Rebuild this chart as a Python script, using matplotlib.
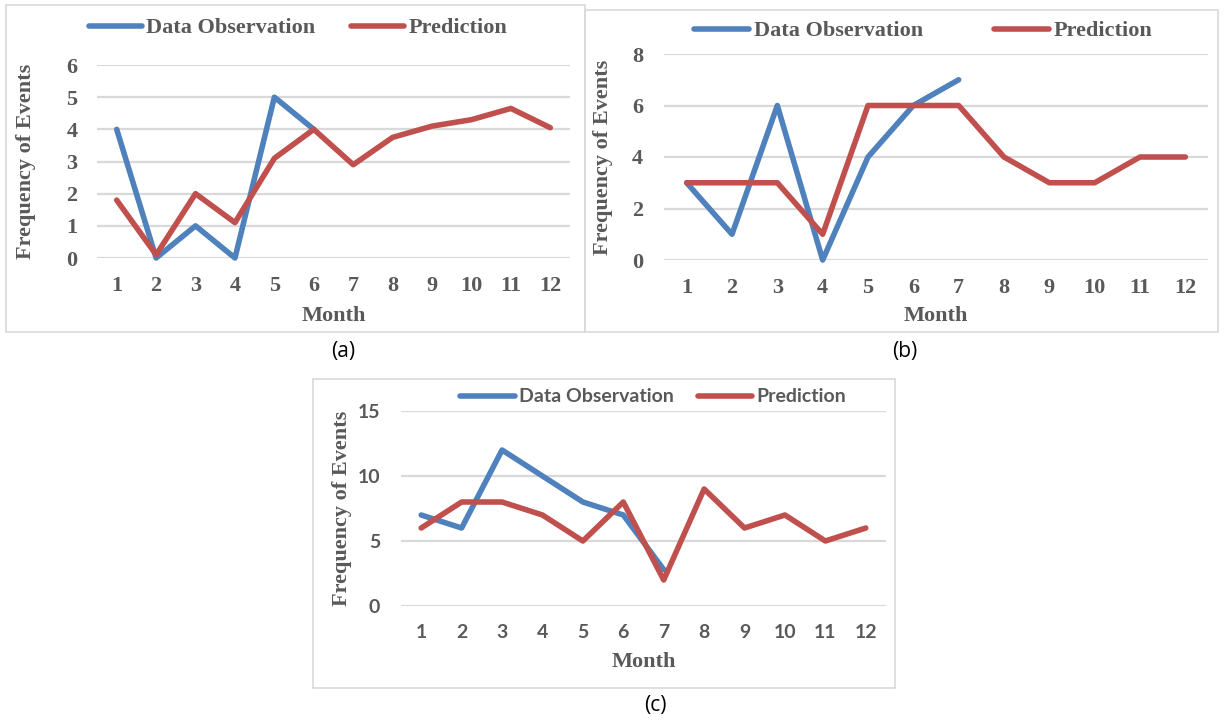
import matplotlib.pyplot as plt
from matplotlib.patches import Rectangle

months = list(range(1, 13))

obs_a = [4, 0, 1, 0, 5, 4]
pred_a = [1.8, 0.1, 2, 1.1, 3.1, 4, 2.9, 3.75, 4.1, 4.3, 4.65, 4.05]

obs_b = [3, 1, 6, 0, 4, 6, 7]
pred_b = [3, 3, 3, 1, 6, 6, 6, 4, 3, 3, 4, 4]

obs_c = [7, 6, 12, 10, 8, 7, 2.8]
pred_c = [6, 8, 8, 7, 5, 8, 2, 9, 6, 7, 5, 6]

W, H = 1225, 720
BLUE = "#4F81BD"
RED = "#C0504D"
GREY = "#595959"
GRID = "#D9D9D9"
SERIF = "Liberation Serif"
SANS = "Lato"

fig = plt.figure(figsize=(W / 100, H / 100), dpi=100)


def px_axes(x0, y0, x1, y1):
    # pixel box (top-left origin) -> figure fraction
    return fig.add_axes([x0 / W, 1 - y1 / H, (x1 - x0) / W, (y1 - y0) / H])


def frame(x0, y0, x1, y1):
    fig.patches.append(Rectangle((x0 / W, 1 - y1 / H), (x1 - x0) / W, (y1 - y0) / H,
                                 transform=fig.transFigure, fill=False,
                                 edgecolor="#D9D9D9", lw=1.2))


def panel(box, ax_px, obs, pred, ymax, ystep, tickfont, tfs, leg_xy, hl, cs,
          month_y, label, label_xy, ypad):
    frame(*box)
    ax = px_axes(*ax_px)
    ax.plot(months[:len(obs)], obs, color=BLUE, lw=4.0, solid_joinstyle="round",
            solid_capstyle="round", clip_on=False, label="Data Observation")
    ax.plot(months, pred, color=RED, lw=4.0, solid_joinstyle="round",
            solid_capstyle="round", clip_on=False, label="Prediction")
    ax.set_xlim(0.5, 12.5)
    ax.set_ylim(0, ymax)
    ax.set_yticks(range(0, ymax + 1, ystep))
    ax.set_xticks(months)
    ax.grid(axis="y", color=GRID, lw=1.6)
    ax.set_axisbelow(True)
    for s in ax.spines.values():
        s.set_visible(False)
    ax.tick_params(length=0, colors=GREY)
    ax.tick_params(axis="x", pad=13)
    ax.tick_params(axis="y", pad=ypad)
    for t in ax.get_xticklabels() + ax.get_yticklabels():
        t.set_fontproperties({"family": tickfont, "weight": "bold", "size": tfs})
    ax.set_ylabel("Frequency of Events", fontfamily=SERIF, fontweight="bold",
                  fontsize=16, color=GREY)
    cx = (ax_px[0] + ax_px[2]) / 2
    fig.text(cx / W, 1 - month_y / H, "Month", ha="center", va="center",
             fontfamily=SERIF, fontweight="bold", fontsize=16, color=GREY)
    leg = ax.legend(loc="center", bbox_to_anchor=(leg_xy[0] / W, 1 - leg_xy[1] / H),
                    bbox_transform=fig.transFigure, ncol=2, frameon=False,
                    handlelength=hl, handletextpad=0.2, columnspacing=cs, borderpad=0,
                    prop={"family": tickfont, "weight": "bold", "size": tfs})
    for t in leg.get_texts():
        t.set_color(GREY)
    fig.text(label_xy[0] / W, 1 - label_xy[1] / H, label, ha="center", va="center",
             fontfamily="Open Sans", fontsize=15, color="black")
    return ax


ax_a = panel((6, 5, 585, 332), (97, 65, 570, 258), obs_a, pred_a, 6, 1, SERIF, 16,
             (298, 28), 2.4, 1.6, 316, "(a)", (343, 351), 14)
ax_a.yaxis.set_label_coords(-0.129, 0.5)

ax_b = panel((585, 10, 1218, 332), (664, 54, 1208, 260), obs_b, pred_b, 8, 2, SERIF, 16,
             (923, 31), 2.5, 3.2, 316, "(b)", (905, 351), 15)
ax_b.yaxis.set_label_coords(-0.094, 0.5)

ax_c = panel((313, 379, 895, 688), (401, 411, 886, 606), obs_c, pred_c, 15, 5, SANS, 14,
             (653, 397), 2.8, 1.25, 662, "(c)", (655, 705), 15)
ax_c.yaxis.set_label_coords(-0.101, 0.5)

fig.savefig("out.png", dpi=100)
